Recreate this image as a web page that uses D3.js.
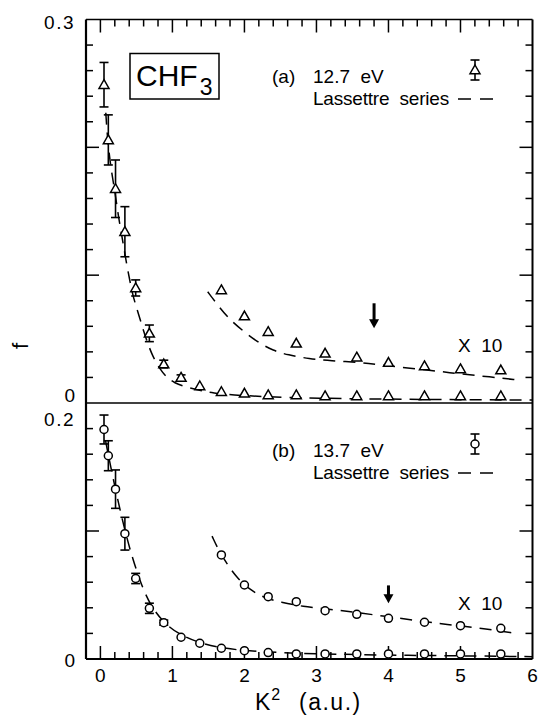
<!DOCTYPE html>
<html>
<head>
<meta charset="utf-8">
<script src="https://cdn.jsdelivr.net/npm/d3@7"></script>
<style>
  html, body { margin: 0; padding: 0; background: #fff; }
  svg { display: block; }
  text { font-family: "Liberation Sans", Arial, sans-serif; fill: #000; white-space: pre; }
</style>
</head>
<body>
<svg id="chart" width="538" height="715"></svg>
<script>
// ---- Data: oscillator strength f versus K^2 (a.u.) for CHF3 ----
const kSq = [0.05, 0.11, 0.21, 0.34, 0.49, 0.68, 0.88, 1.12, 1.38, 1.68, 2.0, 2.33, 2.72, 3.12, 3.56, 4.0, 4.5, 5.0, 5.56];

// (a) 12.7 eV
const fA = [0.249, 0.2058, 0.1676, 0.134, 0.090, 0.0545, 0.0305, 0.020, 0.0133, 0.0088, 0.0076, 0.0063, 0.0063, 0.0055, 0.0055, 0.0055, 0.0055, 0.0055, 0.0055];
const errA = [0.0174, 0.0196, 0.0225, 0.0196, 0.0063, 0.0065, 0.003, 0.002, 0, 0, 0, 0, 0, 0, 0, 0, 0, 0, 0];
const kSqA10 = [1.68, 2.0, 2.33, 2.72, 3.12, 3.56, 4.0, 4.5, 5.0, 5.56];
const fA10 = [0.0884, 0.068, 0.0558, 0.0467, 0.0389, 0.0358, 0.0316, 0.029, 0.0266, 0.0258];
const fitKA = [0.075, 0.1, 0.15, 0.2, 0.25, 0.3, 0.375, 0.45, 0.5, 0.57, 0.64, 0.73, 0.82, 0.91, 1.03, 1.19, 1.4, 1.56, 1.84, 2.25, 3.0, 4.0, 5.0, 6.0];
const fitFA = [0.227, 0.205, 0.182, 0.166, 0.146, 0.13, 0.105, 0.084, 0.075, 0.062, 0.049, 0.036, 0.027, 0.0206, 0.0155, 0.0125, 0.0095, 0.0078, 0.0063, 0.005, 0.0037, 0.003, 0.0026, 0.0023];
const fitKA10 = [1.49, 1.65, 1.8, 2.0, 2.2, 2.4, 2.6, 2.9, 3.2, 3.6, 3.9, 4.3, 4.7, 5.0, 5.4, 5.8];
const fitFA10 = [0.087, 0.075, 0.065, 0.0555, 0.047, 0.041, 0.0376, 0.0346, 0.033, 0.0318, 0.0297, 0.0272, 0.0248, 0.0227, 0.0205, 0.018];

// (b) 13.7 eV
const fB = [0.1793, 0.1588, 0.1327, 0.0979, 0.0629, 0.0396, 0.0284, 0.017, 0.0123, 0.0084, 0.0065, 0.005, 0.004, 0.004, 0.004, 0.004, 0.004, 0.004, 0.004];
const errB = [0.0113, 0.0117, 0.015, 0.0128, 0.004, 0.004, 0.002, 0, 0, 0, 0, 0, 0, 0, 0, 0, 0, 0, 0];
const kSqB10 = [1.68, 2.0, 2.33, 2.72, 3.12, 3.56, 4.0, 4.5, 5.0, 5.56];
const fB10 = [0.0813, 0.0578, 0.0487, 0.0448, 0.0377, 0.0349, 0.0318, 0.0287, 0.026, 0.024];
const fitKB = [0.07, 0.15, 0.25, 0.35, 0.45, 0.55, 0.68, 0.88, 1.1, 1.4, 1.7, 2.0, 2.5, 3.0, 4.0, 5.0, 6.0];
const fitFB = [0.171, 0.148, 0.122, 0.098, 0.078, 0.061, 0.043, 0.028, 0.019, 0.012, 0.0085, 0.0065, 0.005, 0.004, 0.003, 0.0025, 0.0018];
const fitKB10 = [1.55, 1.65, 1.75, 1.9, 2.1, 2.3, 2.5, 2.8, 3.2, 3.6, 4.0, 4.4, 4.8, 5.3, 5.77];
const fitFB10 = [0.096, 0.084, 0.075, 0.063, 0.053, 0.0474, 0.0445, 0.041, 0.0388, 0.036, 0.033, 0.030, 0.027, 0.024, 0.020];

// Arrows marking the ionization limit (K^2, f top, f bottom)
const arrowA = [3.8, 0.078, 0.0585];
const arrowB = [4.0, 0.0575, 0.0435];

// Tick labels
const xTickLabels = ["0", "1", "2", "3", "4", "5", "6"];
const yTickLabelsA = ["0", "0.3"];
const yTickLabelsB = ["0", "0.2"];

// ---- Layout ----
const svg = d3.select("#chart");
const L = 86, R = 532.5, T = 19.5, MID = 403, B = 659;

const x = d3.scaleLinear().domain([-0.2, 6]).range([L, R]);
const yA = d3.scaleLinear().domain([0, 0.3]).range([MID, T]);
const yB = d3.scaleLinear().domain([0, 0.2]).range([B, MID]);

const g = svg.append("g");

// Ticks helper: draws inward tick marks on a straight axis
function ticksAlong(values, pos, isMajor, axis) {
  values.forEach(v => {
    const len = isMajor(v) ? 13 : 7;
    const p = pos(v);
    let x1, y1, x2, y2;
    if (axis === "left")   { x1 = L; x2 = L + len; y1 = y2 = p; }
    if (axis === "right")  { x1 = R; x2 = R - len; y1 = y2 = p; }
    if (axis === "top")    { y1 = T; y2 = T + len; x1 = x2 = p; }
    if (axis === "bottom") { y1 = B; y2 = B - len; x1 = x2 = p; }
    g.append("line").attr("x1", x1).attr("y1", y1).attr("x2", x2).attr("y2", y2)
      .attr("stroke", "#000").attr("stroke-width", 1.5);
  });
}
const near = (a, b) => Math.abs(a - b) < 1e-6;

const xt = d3.range(0, 30).map(i => +(i * 0.2).toFixed(1)).filter(v => v <= 5.9);
const xMajor = v => near(v, Math.round(v));
ticksAlong(xt, x, xMajor, "top");
ticksAlong(xt, x, xMajor, "bottom");

const ytA = d3.range(1, 15).map(i => +(i * 0.02).toFixed(2));
const ytB = d3.range(1, 10).map(i => +(i * 0.02).toFixed(2));
const yMajor = v => near(v * 10, Math.round(v * 10));
ticksAlong(ytA, yA, yMajor, "left");
ticksAlong(ytA, yA, yMajor, "right");
ticksAlong(ytB, yB, yMajor, "left");
ticksAlong(ytB, yB, yMajor, "right");

// Frame and panel divider
g.append("line").attr("x1", L).attr("x2", L).attr("y1", T).attr("y2", B).attr("stroke", "#000").attr("stroke-width", 2.2);
g.append("line").attr("x1", R).attr("x2", R).attr("y1", T).attr("y2", B).attr("stroke", "#000").attr("stroke-width", 2);
g.append("line").attr("x1", L).attr("x2", R).attr("y1", T).attr("y2", T).attr("stroke", "#000").attr("stroke-width", 1.6);
g.append("line").attr("x1", L).attr("x2", R).attr("y1", B).attr("y2", B).attr("stroke", "#000").attr("stroke-width", 2.2);
g.append("line").attr("x1", L).attr("x2", R).attr("y1", MID).attr("y2", MID).attr("stroke", "#000").attr("stroke-width", 1.6);

// Tick labels
const tickFont = 19;
xTickLabels.forEach(t => {
  g.append("text").attr("x", x(+t)).attr("y", 682).attr("text-anchor", "middle")
    .attr("font-size", tickFont).text(t);
});
// y labels (the two zeros/tops near the divider are nudged apart)
g.append("text").attr("x", 75).attr("y", yA(0.3) + 9).attr("text-anchor", "end").attr("font-size", tickFont).attr("letter-spacing", 1.5).text(yTickLabelsA[1]);
g.append("text").attr("x", 75).attr("y", yA(0) - 1).attr("text-anchor", "end").attr("font-size", tickFont).text(yTickLabelsA[0]);
g.append("text").attr("x", 75).attr("y", yB(0.2) + 23).attr("text-anchor", "end").attr("font-size", tickFont).attr("letter-spacing", 1.5).text(yTickLabelsB[1]);
g.append("text").attr("x", 75).attr("y", yB(0) + 8).attr("text-anchor", "end").attr("font-size", tickFont).text(yTickLabelsB[0]);

// Axis titles
g.append("text").attr("transform", "translate(28,346) rotate(-90)").attr("text-anchor", "middle")
  .attr("font-size", 22).text("f");
const xt2 = g.append("text").attr("x", 255).attr("y", 710).attr("font-size", 23);
xt2.append("tspan").text("K");
xt2.append("tspan").attr("font-size", 16).attr("dy", -10).attr("dx", 1).text("2");
xt2.append("tspan").attr("dy", 10).attr("dx", 3).attr("letter-spacing", 1.5).text("  (a.u.)");

// Molecule label box
g.append("rect").attr("x", 130).attr("y", 53.5).attr("width", 89).attr("height", 45.5)
  .attr("fill", "none").attr("stroke", "#000").attr("stroke-width", 1.5);
const mol = g.append("text").attr("x", 136).attr("y", 86).attr("font-size", 30);
mol.append("tspan").text("CHF");
mol.append("tspan").attr("font-size", 23).attr("dy", 9).attr("dx", 2).text("3");

// Markers
function triangle(sel, cx, cy) {
  const s = 5;
  sel.append("path")
    .attr("d", `M${cx},${cy - s}L${cx + s},${cy + s * 0.75}L${cx - s},${cy + s * 0.75}Z`)
    .attr("fill", "#fff").attr("stroke", "#000").attr("stroke-width", 1.5);
}
function circle(sel, cx, cy) {
  sel.append("circle").attr("cx", cx).attr("cy", cy).attr("r", 4)
    .attr("fill", "#fff").attr("stroke", "#000").attr("stroke-width", 1.5);
}
function errorBar(sel, cx, yTop, yBot) {
  sel.append("line").attr("x1", cx).attr("x2", cx).attr("y1", yTop).attr("y2", yBot)
    .attr("stroke", "#000").attr("stroke-width", 1.6);
  [yTop, yBot].forEach(yy => sel.append("line").attr("x1", cx - 4.5).attr("x2", cx + 4.5)
    .attr("y1", yy).attr("y2", yy).attr("stroke", "#000").attr("stroke-width", 1.6));
}

const dashed = (sel, ks, fs, yScale) => {
  const line = d3.line().x(d => x(d[0])).y(d => yScale(d[1])).curve(d3.curveBasis);
  sel.append("path").attr("d", line(ks.map((k, i) => [k, fs[i]])))
    .attr("fill", "none").attr("stroke", "#000").attr("stroke-width", 1.5)
    .attr("stroke-dasharray", "12,8");
};

function arrow(sel, a, yScale) {
  const cx = x(a[0]), y1 = yScale(a[1]), y2 = yScale(a[2]);
  sel.append("line").attr("x1", cx).attr("x2", cx).attr("y1", y1).attr("y2", y2 - 6)
    .attr("stroke", "#000").attr("stroke-width", 3);
  sel.append("path").attr("d", `M${cx - 5},${y2 - 9}L${cx + 5},${y2 - 9}L${cx},${y2}Z`).attr("fill", "#000");
}

// Panel (a)
const pa = g.append("g");
dashed(pa, fitKA, fitFA, yA);
dashed(pa, fitKA10, fitFA10, yA);
kSq.forEach((k, i) => {
  if (errA[i] > 0) errorBar(pa, x(k), yA(fA[i] + errA[i]), yA(fA[i] - errA[i]));
  triangle(pa, x(k), yA(fA[i]));
});
kSqA10.forEach((k, i) => triangle(pa, x(k), yA(fA10[i])));
arrow(pa, arrowA, yA);
pa.append("text").attr("x", 458).attr("y", 352).attr("font-size", 19).text("X  10");

// Panel (b)
const pb = g.append("g");
dashed(pb, fitKB, fitFB, yB);
dashed(pb, fitKB10, fitFB10, yB);
kSq.forEach((k, i) => {
  if (errB[i] > 0) errorBar(pb, x(k), yB(fB[i] + errB[i]), yB(fB[i] - errB[i]));
  circle(pb, x(k), yB(fB[i]));
});
kSqB10.forEach((k, i) => circle(pb, x(k), yB(fB10[i])));
arrow(pb, arrowB, yB);
pb.append("text").attr("x", 458).attr("y", 610).attr("font-size", 19).text("X  10");

// Legends
function legend(sel, yBase, tag, energy, marker) {
  sel.append("text").attr("x", 272).attr("y", yBase).attr("font-size", 19).text(tag);
  sel.append("text").attr("x", 313).attr("y", yBase).attr("font-size", 19).text(energy);
  sel.append("text").attr("x", 313).attr("y", yBase + 22).attr("font-size", 19).attr("letter-spacing", -0.2).text("Lassettre  series");
  errorBar(sel, 475, yBase - 23, yBase - 3);
  marker(sel, 475, yBase - 13);
  sel.append("line").attr("x1", 458).attr("x2", 496).attr("y1", yBase + 16).attr("y2", yBase + 16)
    .attr("stroke", "#000").attr("stroke-width", 1.5).attr("stroke-dasharray", "13,9");
}
legend(g, 83, "(a)", "12.7  eV", triangle);
legend(g, 457, "(b)", "13.7  eV", circle);
</script>
</body>
</html>
